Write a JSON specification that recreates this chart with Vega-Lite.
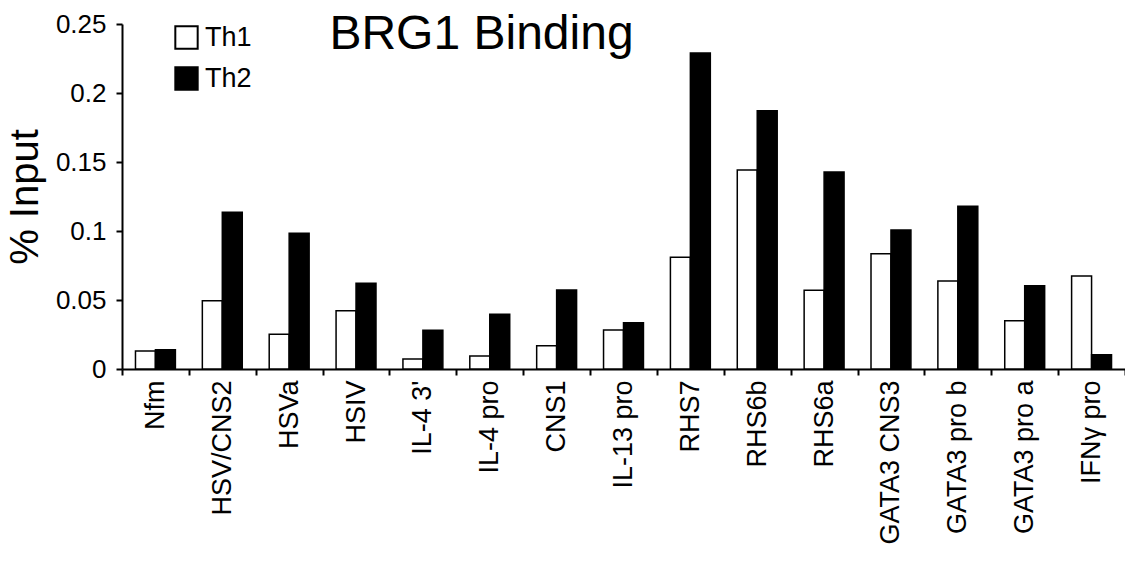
{
  "$schema": "https://vega.github.io/schema/vega-lite/v6.json",
  "autosize": "none",
  "padding": {"left": 122, "top": 24, "right": 0, "bottom": 202},
  "width": 1003,
  "height": 345,
  "background": "white",
  "config": {
    "font": "Liberation Sans",
    "view": {"stroke": null}
  },
  "title": {
    "text": "BRG1 Binding",
    "fontSize": 48,
    "font": "Liberation Sans",
    "fontWeight": "normal",
    "color": "black",
    "anchor": "middle",
    "dx": -142,
    "offset": -48
  },
  "data": {
    "values": [
      {"site": "Nfm", "cell": "Th1", "value": 0.013},
      {"site": "Nfm", "cell": "Th2", "value": 0.014},
      {"site": "HSV/CNS2", "cell": "Th1", "value": 0.0495},
      {"site": "HSV/CNS2", "cell": "Th2", "value": 0.1135},
      {"site": "HSVa", "cell": "Th1", "value": 0.0251},
      {"site": "HSVa", "cell": "Th2", "value": 0.0983},
      {"site": "HSIV", "cell": "Th1", "value": 0.0423},
      {"site": "HSIV", "cell": "Th2", "value": 0.0621},
      {"site": "IL-4 3'", "cell": "Th1", "value": 0.0072},
      {"site": "IL-4 3'", "cell": "Th2", "value": 0.028},
      {"site": "IL-4 pro", "cell": "Th1", "value": 0.0094},
      {"site": "IL-4 pro", "cell": "Th2", "value": 0.0396},
      {"site": "CNS1", "cell": "Th1", "value": 0.0169},
      {"site": "CNS1", "cell": "Th2", "value": 0.0572},
      {"site": "IL-13 pro", "cell": "Th1", "value": 0.0283},
      {"site": "IL-13 pro", "cell": "Th2", "value": 0.0336},
      {"site": "RHS7", "cell": "Th1", "value": 0.081},
      {"site": "RHS7", "cell": "Th2", "value": 0.229},
      {"site": "RHS6b", "cell": "Th1", "value": 0.1442},
      {"site": "RHS6b", "cell": "Th2", "value": 0.1872},
      {"site": "RHS6a", "cell": "Th1", "value": 0.057},
      {"site": "RHS6a", "cell": "Th2", "value": 0.1428},
      {"site": "GATA3 CNS3", "cell": "Th1", "value": 0.0836},
      {"site": "GATA3 CNS3", "cell": "Th2", "value": 0.1007},
      {"site": "GATA3 pro b", "cell": "Th1", "value": 0.0638},
      {"site": "GATA3 pro b", "cell": "Th2", "value": 0.1179},
      {"site": "GATA3 pro a", "cell": "Th1", "value": 0.035},
      {"site": "GATA3 pro a", "cell": "Th2", "value": 0.0604},
      {"site": "IFNγ pro", "cell": "Th1", "value": 0.0674},
      {"site": "IFNγ pro", "cell": "Th2", "value": 0.0104}
    ]
  },
  "mark": {"type": "bar", "stroke": "black", "strokeWidth": 1.5},
  "encoding": {
    "x": {
      "field": "site",
      "type": "nominal",
      "sort": null,
      "scale": {"paddingInner": 0, "paddingOuter": 0},
      "axis": {
        "title": null,
        "labelAngle": -90,
        "labelFontSize": 27,
        "labelColor": "black",
        "labelPadding": 5,
        "tickBand": "extent",
        "tickColor": "black",
        "tickSize": 6,
        "tickWidth": 2,
        "domainColor": "black",
        "domainWidth": 2,
        "labelLimit": 300
      }
    },
    "xOffset": {
      "field": "cell",
      "type": "nominal",
      "scale": {"paddingInner": 0, "paddingOuter": 0.675}
    },
    "y": {
      "field": "value",
      "type": "quantitative",
      "scale": {"domain": [0, 0.25], "nice": false},
      "axis": {
        "title": "% Input",
        "titleFontSize": 40,
        "titleFontWeight": "normal",
        "titleColor": "black",
        "titlePadding": 10,
        "values": [0, 0.05, 0.1, 0.15, 0.2, 0.25],
        "format": "~g",
        "labelFontSize": 26,
        "labelColor": "black",
        "labelPadding": 10,
        "tickColor": "black",
        "tickSize": 6,
        "tickWidth": 2,
        "domainColor": "black",
        "domainWidth": 2,
        "grid": false
      }
    },
    "fill": {
      "field": "cell",
      "type": "nominal",
      "scale": {"domain": ["Th1", "Th2"], "range": ["white", "black"]},
      "legend": {
        "title": null,
        "orient": "none",
        "legendX": 51,
        "legendY": 0,
        "symbolType": "square",
        "symbolSize": 500,
        "symbolStrokeColor": "black",
        "symbolStrokeWidth": 2,
        "labelFontSize": 27,
        "labelColor": "black",
        "labelOffset": 5,
        "rowPadding": 10
      }
    }
  }
}
